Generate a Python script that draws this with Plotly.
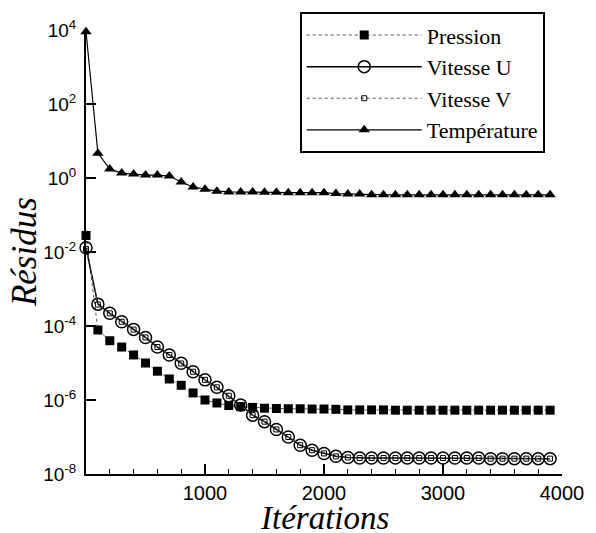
import plotly.graph_objects as go

# Iteration counter (one sample every 100 iterations)
iterations = list(range(0, 4000, 100))

# Residual histories
pression = [
    2.8e-2, 7.8e-5, 4.0e-5, 2.7e-5, 1.65e-5, 1.0e-5, 6.0e-6, 3.7e-6, 2.5e-6, 1.55e-6,
    1.0e-6, 8.3e-7, 7.1e-7, 6.6e-7, 6.3e-7, 6.0e-7, 5.9e-7, 5.8e-7, 5.8e-7, 5.7e-7,
    5.7e-7, 5.6e-7, 5.4e-7, 5.4e-7, 5.4e-7, 5.4e-7, 5.3e-7, 5.3e-7, 5.3e-7, 5.3e-7,
    5.3e-7, 5.3e-7, 5.3e-7, 5.3e-7, 5.3e-7, 5.3e-7, 5.3e-7, 5.3e-7, 5.3e-7, 5.3e-7,
]
vitesse_u = [
    1.3e-2, 3.9e-4, 2.2e-4, 1.3e-4, 8.1e-5, 4.9e-5, 2.7e-5, 1.65e-5, 9.8e-6, 5.8e-6,
    3.5e-6, 2.2e-6, 1.3e-6, 7.3e-7, 3.9e-7, 2.6e-7, 1.6e-7, 1.0e-7, 6.0e-8, 4.4e-8,
    3.6e-8, 3.0e-8, 2.8e-8, 2.7e-8, 2.7e-8, 2.7e-8, 2.7e-8, 2.7e-8, 2.7e-8, 2.7e-8,
    2.7e-8, 2.7e-8, 2.7e-8, 2.7e-8, 2.6e-8, 2.6e-8, 2.6e-8, 2.6e-8, 2.6e-8, 2.6e-8,
]
vitesse_v = [
    1.2e-2, 3.8e-4, 2.2e-4, 1.3e-4, 8.0e-5, 4.9e-5, 2.7e-5, 1.65e-5, 9.7e-6, 5.8e-6,
    3.5e-6, 2.2e-6, 1.3e-6, 7.2e-7, 3.9e-7, 2.6e-7, 1.6e-7, 1.0e-7, 6.0e-8, 4.4e-8,
    3.6e-8, 3.0e-8, 2.8e-8, 2.7e-8, 2.7e-8, 2.7e-8, 2.7e-8, 2.7e-8, 2.7e-8, 2.7e-8,
    2.7e-8, 2.7e-8, 2.7e-8, 2.7e-8, 2.6e-8, 2.6e-8, 2.6e-8, 2.6e-8, 2.6e-8, 2.6e-8,
]
temperature = [
    9.0e3, 4.7, 1.75, 1.36, 1.28, 1.2, 1.2, 1.13, 0.78, 0.57,
    0.50, 0.44, 0.42, 0.42, 0.42, 0.41, 0.41, 0.40, 0.40, 0.40,
    0.40, 0.38, 0.37, 0.37, 0.35, 0.35, 0.35, 0.35, 0.35, 0.35,
    0.35, 0.35, 0.35, 0.35, 0.35, 0.35, 0.35, 0.35, 0.35, 0.35,
]

x_ticks = [1000, 2000, 3000, 4000]
y_exponents = [4, 2, 0, -2, -4, -6, -8]

SERIF = "Liberation Serif, Times New Roman, serif"

fig = go.Figure()

fig.add_trace(go.Scatter(
    x=iterations, y=pression, name="Pression", mode="lines+markers",
    line=dict(color="#555555", width=1, dash="dot"),
    marker=dict(symbol="square", size=9, color="black"),
    cliponaxis=False,
))
fig.add_trace(go.Scatter(
    x=iterations, y=vitesse_u, name="Vitesse U", mode="lines+markers",
    line=dict(color="black", width=1.5),
    marker=dict(symbol="circle-open", size=12, color="black", line=dict(width=1.5)),
    cliponaxis=False,
))
fig.add_trace(go.Scatter(
    x=iterations, y=vitesse_v, name="Vitesse V", mode="lines+markers",
    line=dict(color="#555555", width=1, dash="dot"),
    marker=dict(symbol="square-open", size=5, color="black", line=dict(width=1)),
    cliponaxis=False,
))
fig.add_trace(go.Scatter(
    x=iterations, y=temperature, name="Température", mode="lines+markers",
    line=dict(color="black", width=1.2),
    marker=dict(symbol="triangle-up", size=10, color="black"),
    cliponaxis=False,
))

fig.update_layout(
    width=596, height=533,
    margin=dict(l=86, r=27, t=30, b=59),
    paper_bgcolor="white", plot_bgcolor="white",
    font=dict(family="Liberation Sans, Arial, sans-serif", color="black"),
    showlegend=True,
    legend=dict(
        x=0.449, y=1.04, xanchor="left", yanchor="top",
        bordercolor="black", borderwidth=2, bgcolor="white",
        font=dict(family=SERIF, size=22),
        itemwidth=115, tracegroupgap=0,
    ),
    xaxis=dict(
        range=[0, 4000], showgrid=False, zeroline=False,
        showline=True, linecolor="black", linewidth=2,
        ticks="inside", ticklen=10, tickwidth=1.5, tickcolor="black",
        tickvals=x_ticks, ticktext=[str(v) for v in x_ticks],
        tickfont=dict(size=20), ticklabelstandoff=0,
        minor=dict(dtick=200, ticks="inside", ticklen=5, tickwidth=1, tickcolor="black"),
    ),
    yaxis=dict(
        type="log", range=[-8, 4], showgrid=False, zeroline=False,
        showline=True, linecolor="black", linewidth=2,
        ticks="inside", ticklen=10, tickwidth=1.5, tickcolor="black",
        tickvals=[10.0 ** e for e in y_exponents],
        ticktext=[f"10<sup>{e}</sup>" for e in y_exponents],
        tickfont=dict(size=19), ticklabelstandoff=4,
    ),
    annotations=[
        dict(text="<i>Itérations</i>", xref="paper", yref="paper",
             x=0.5, y=-0.1, xanchor="center", yanchor="middle", showarrow=False,
             font=dict(family=SERIF, size=33)),
        dict(text="<i>Résidus</i>", xref="paper", yref="paper",
             x=-0.13, y=0.5, xanchor="center", yanchor="middle", showarrow=False,
             textangle=-90,
             font=dict(family=SERIF, size=35)),
    ],
)

fig.write_html("out.html")
